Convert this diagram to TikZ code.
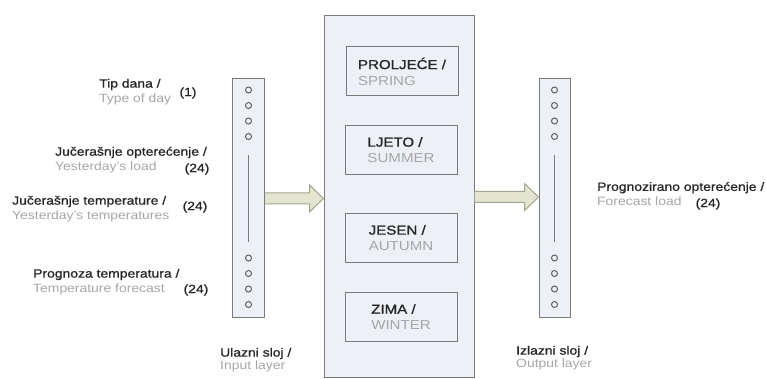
\documentclass[tikz,border=0pt]{standalone}
\usepackage{fontspec}
\setmainfont{Liberation Sans}[FakeStretch=1.16]
\newfontfamily\darkfont{Liberation Sans}[FakeStretch=1.16,FakeBold=1]
\usetikzlibrary{calc}
\definecolor{panel}{HTML}{EEF0F7}
\definecolor{edgegray}{HTML}{7A7A7A}
\definecolor{unitgray}{HTML}{5E5E5E}
\definecolor{arrowfill}{HTML}{E4E5CF}
\definecolor{arrowedge}{HTML}{A3A58E}
\definecolor{darktext}{HTML}{262626}
\definecolor{lighttext}{HTML}{A6A6A6}
\tikzset{
  layer/.style={draw=edgegray, fill=panel, line width=1pt, minimum width=32pt, minimum height=239pt, inner sep=0pt},
  season/.style={draw=edgegray, line width=1pt, minimum width=112pt, minimum height=49pt, align=left, text=darktext, font=\fontsize{13}{16}\selectfont},
  unit/.style={circle, draw=unitgray, line width=1pt, minimum size=6pt, inner sep=0pt},
  lbl/.style={anchor=west, align=left, inner sep=0pt, text=darktext, font=\fontsize{12}{15}\selectfont},
  cnt/.style={inner sep=0pt, text=darktext, font=\darkfont\fontsize{12}{15}\selectfont},
  bigarrow/.style={draw=arrowedge, fill=arrowfill, line width=1pt, line join=miter},
}

\begin{document}
\begin{tikzpicture}[x=1pt, y=-1pt]
\useasboundingbox (0,0) rectangle (766,379);
% layers
\node[layer] (inbar) at (248.5,198.5) {};
\node[layer, minimum width=150pt, minimum height=362pt] (cbox) at (399,197) {};
\node[layer, minimum width=31pt] (outbar) at (554.5,198.5) {};
% units in the input and output layers
\foreach \bar in {inbar,outbar}
{
  \foreach \k/\yy in {1/-108.5,2/-93,3/-77.5,4/-62,5/59.5,6/75,7/90.5,8/106}
  {
    \node[unit] (\bar-\k) at ($(\bar.center)+(0,\yy)$) {};
  }
  \draw[edgegray, line width=0.9pt, shorten <=15.5pt, shorten >=12pt] (\bar-4) -- (\bar-5);
}
% seasons
\node[season] (spring) at (402,71.5) {{\darkfont PROLJEĆE /}\\\textcolor{lighttext}{SPRING}};
\node[season] (summer) at (401,150) {{\darkfont LJETO /}\\\textcolor{lighttext}{SUMMER}};
\node[season] (autumn) at (401,238) {{\darkfont JESEN /}\\\textcolor{lighttext}{AUTUMN}};
\node[season] (winter) at (401,317) {{\darkfont ZIMA /}\\\textcolor{lighttext}{WINTER}};
% arrows
\foreach \a/\b in {inbar/cbox,cbox/outbar}
{
  \draw[bigarrow] ($(\a.east)+(0,-5.5)$) -- ($(\b.west |- \a.east)+(-14,-5.5)$) -- ++(0,-8)
    -- (\b.west |- \a.east) -- ($(\b.west |- \a.east)+(-14,13.5)$) -- ++(0,-8) -- ($(\a.east)+(0,5.5)$);
}
% inputs
\node[lbl] (daytype) at (99,92) {{\darkfont Tip dana /}\\\textcolor{lighttext}{Type of day}};
\node[cnt] (daytypen) at (188,93) {(1)};
\node[lbl] (yload) at (55,160) {{\darkfont Jučerašnje opterećenje /}\\\textcolor{lighttext}{Yesterday's load}};
\node[cnt] (yloadn) at (197,169) {(24)};
\node[lbl] (ytemp) at (12,209) {{\darkfont Jučerašnje temperature /}\\\textcolor{lighttext}{Yesterday's temperatures}};
\node[cnt] (ytempn) at (195,207) {(24)};
\node[lbl] (tfc) at (33,282) {{\darkfont Prognoza temperatura /}\\\textcolor{lighttext}{Temperature forecast}};
\node[cnt] (tfcn) at (196,290) {(24)};
% output
\node[lbl] (fload) at (597,194) {{\darkfont Prognozirano opterećenje /}\\\textcolor{lighttext}{Forecast load}};
\node[cnt] (floadn) at (708,204) {(24)};
% layer names
\node[lbl, font=\fontsize{12}{13}\selectfont] (inname) at (220,360) {{\darkfont Ulazni sloj /}\\\textcolor{lighttext}{Input layer}};
\node[lbl, font=\fontsize{12}{13}\selectfont] (outname) at (516,358) {{\darkfont Izlazni sloj /}\\\textcolor{lighttext}{Output layer}};
\end{tikzpicture}
\end{document}
